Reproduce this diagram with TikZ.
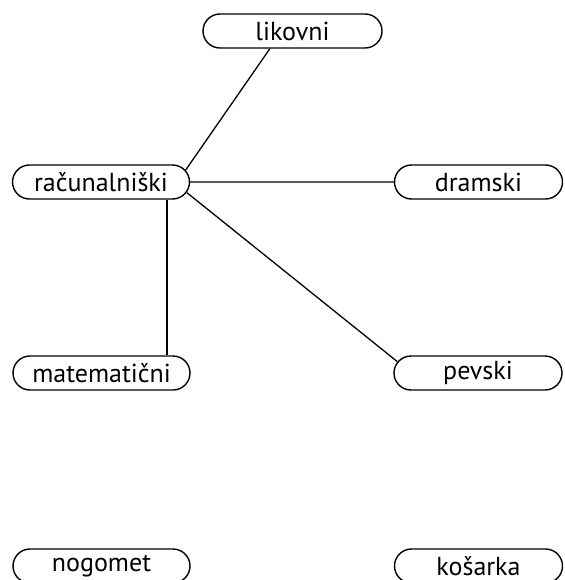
\documentclass[tikz,border=0pt]{standalone}
\usepackage{fontspec}
\setmainfont{PT Sans}
\usepackage{tikz}
\usetikzlibrary{shapes.misc,calc}
\newcommand{\napis}{\fontsize{26pt}{30pt}\selectfont}
\tikzset{
	krozek/.style={draw, rounded rectangle, line width=1.4pt, minimum height=34pt,
		inner sep=0pt, font=\napis},
	levi/.style={krozek, minimum width=177pt},
	desni/.style={krozek, minimum width=168pt},
	povezava/.style={line width=1.3pt}
}

\begin{document}
\begin{tikzpicture}[x=1pt, y=-1pt]
	\useasboundingbox (0, 0) rectangle (564, 580);

	\node at (292.5, 31) [krozek, minimum width=179pt] (lik) {likovni};
	\node at (101, 182) [levi] (rac) {računalniški};
	\node at (478.5, 182) [desni] (dram) {dramski};
	\node at (101.5, 373) [levi] (mat) {matematični};
	\node at (478, 373) [desni] (pev) {pevski};
	%\node spodaj, brez povezav
	\node at (101.5, 566) [levi] (nog) {nogomet};
	\node at (478.5, 566) [desni] (kos) {košarka};

	\draw [povezava] (rac.8) -- (lik.218);
	\draw [povezava] (rac) -- (dram);
	\draw [povezava] (rac.-7) -- (pev.172);
	\draw [povezava] ([xshift=66pt]rac.south) -- ([xshift=66pt]rac.south |- mat.north);
\end{tikzpicture}
\end{document}
